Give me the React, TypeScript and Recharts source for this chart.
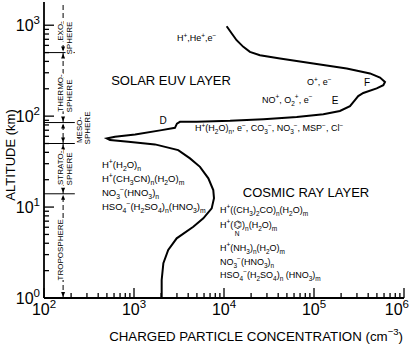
import { ComposedChart, Line, XAxis, YAxis, ReferenceLine, ReferenceDot } from 'recharts';

// charged particle concentration profile (cm^-3) vs altitude (km), traced top -> ground
const concentration = [10700, 12200, 13800, 16400, 19400, 25100, 41900, 98200, 231000, 419000, 541000, 615000, 589000, 497000, 353000, 310000, 285000, 251000, 194000, 127000, 64300, 27400, 11700, 4980, 3240, 3000, 2850, 2030, 1030, 615, 498, 541, 865, 1710, 3100, 4190, 5410, 6700, 7600, 7740, 7300, 5890, 4560, 2980, 2400, 2120, 2030, 2030];
const altitude = [975, 811, 684, 578, 509, 468, 431, 379, 334, 295, 266, 238, 219, 202, 180, 166, 150, 129, 114, 105, 98, 92.7, 88.8, 87, 86.5, 82.7, 74.4, 70.2, 63, 59.3, 56.9, 54.5, 52.2, 48.9, 42.3, 34.3, 27.7, 20.7, 15.4, 12.5, 9.68, 7.51, 6.08, 4.53, 3.37, 2.41, 1.58, 1];

const xDecades = [100, 1000, 10000, 100000, 1000000];
const yDecades = [1, 10, 100, 1000];
const minorSteps = [2, 3, 4, 5, 6, 7, 8, 9];

// atmospheric layers
const layerBounds = [14, 50, 85, 500];
const layerNames = [['TROPOSPHERE'], ['STRATO-', 'SPHERE'], ['MESO-', 'SPHERE'], ['THERMO-', 'SPHERE'], ['EXO-', 'SPHERE']];
const layerLabelAlt = [[3.64], [29, 28.2], [75.7, 79.6], [193, 179], [927, 776]];
const layerLabelConc = [[163], [163, 205], [264, 324], [163, 205], [163, 205]];

const ionsLower = ['H^+(H_2O)_n', 'H^+(CH_3CN)_n(H_2O)_m', 'NO_3^−(HNO_3)_n', 'HSO_4^−(H_2SO_4)_n(HNO_3)_m'];
const ionsLowerAlt = [29, 20.3, 14.3, 10];
const ionsCosmic = ['H^+((CH_3)_2CO)_n(H_2O)_m', 'PYR', 'H^+(NH_3)_n(H_2O)_m', 'NO_3^−(HNO_3)_n', 'HSO_4^−(H_2SO_4)_n (HNO_3)_m'];
const ionsCosmicAlt = [9.27, 6.34, 3.54, 2.49, 1.79];

const data = concentration.map((c, i) => ({ conc: c, alt: altitude[i] }));
const build = (decs: number[], top: number) => {
  const t: number[] = [];
  decs.forEach((d) => { t.push(d); minorSteps.forEach((m) => { if (d * m <= top) t.push(d * m); }); });
  return t;
};
const xTicks = build(xDecades, 1000000);
const yTicks = build(yDecades, 1800);

const FONT = "'Liberation Sans', Arial, sans-serif";

function parseChem(s: string) {
  const out: { t: string; k: number }[] = [];
  let buf = '';
  let i = 0;
  const flush = () => { if (buf) { out.push({ t: buf, k: 0 }); buf = ''; } };
  while (i < s.length) {
    const c = s[i];
    if (c === '^' || c === '_') {
      flush();
      let t = '';
      if (s[i + 1] === '{') { const j = s.indexOf('}', i); t = s.slice(i + 2, j); i = j + 1; }
      else { t = s[i + 1]; i += 2; }
      out.push({ t, k: c === '^' ? 1 : -1 });
    } else { buf += c; i++; }
  }
  flush();
  return out;
}

function Chem({ x, y, s, size, anchor = 'start', font = FONT, rotate = 0, halo = false }: any) {
  const parts = parseChem(s);
  let cur = 0;
  return (
    <text x={x} y={y} fontSize={size} fontFamily={font} textAnchor={anchor} fill="#000"
      transform={rotate ? `rotate(${rotate} ${x} ${y})` : undefined}
      stroke={halo ? '#fff' : undefined} strokeWidth={halo ? 3 : undefined} paintOrder="stroke">
      {parts.map((p, i) => {
        const target = p.k === 1 ? -size * 0.42 : p.k === -1 ? size * 0.28 : 0;
        const dy = target - cur;
        cur = target;
        return <tspan key={i} dy={dy} fontSize={p.k ? size * 0.72 : size}>{p.t}</tspan>;
      })}
    </text>
  );
}

const isMajor = (v: number) => Math.abs(Math.log10(v) - Math.round(Math.log10(v))) < 1e-6;
const MAJ = 10;
const MIN = 5;
const tickStroke = { stroke: '#000', strokeWidth: 1.3 };

function BottomTick({ x, y, payload }: any) {
  const v = payload.value;
  const big = isMajor(v);
  const last = v >= 1000000;
  return (
    <g>
      <line x1={x} y1={y} x2={x} y2={y - (big ? MAJ : MIN)} {...tickStroke} />
      {big && (
        <Chem x={last ? x + 5 : x} y={y + 17} s={`10^${Math.round(Math.log10(v))}`} size={16}
          anchor={last ? 'end' : 'middle'} />
      )}
    </g>
  );
}
function TopTick({ x, y, payload }: any) {
  const big = isMajor(payload.value);
  return <line x1={x} y1={y} x2={x} y2={y + (big ? MAJ : MIN)} {...tickStroke} />;
}
function LeftTick({ x, y, payload }: any) {
  const big = isMajor(payload.value);
  return (
    <g>
      <line x1={x} y1={y} x2={x + (big ? MAJ : MIN)} y2={y} {...tickStroke} />
      {big && <Chem x={x - 4} y={y + 6} s={`10^${Math.round(Math.log10(payload.value))}`} size={16} anchor="end" />}
    </g>
  );
}
function RightTick({ x, y, payload }: any) {
  const big = isMajor(payload.value);
  return <line x1={x} y1={y} x2={x - (big ? MAJ : MIN)} y2={y} {...tickStroke} />;
}

const label = (s: string, size: number, anchor = 'start', rotate = 0, halo = false) => (p: any) => (
  <Chem x={p.cx} y={p.cy + size * 0.35} s={s} size={size} anchor={anchor} rotate={rotate} halo={halo} />
);

const pyridine = (p: any) => (
  <g fontFamily={FONT} fill="#000">
    <text x={p.cx} y={p.cy + 3.2} fontSize={9}>
      <tspan>H</tspan><tspan dy={-3.8} fontSize={6.5}>+</tspan><tspan dy={3.8}>(</tspan>
      <tspan fontFamily="'DejaVu Sans'" fontSize={10}>⌬</tspan>
      <tspan>)</tspan><tspan dy={2.5} fontSize={6.5}>n</tspan><tspan dy={-2.5}>(H</tspan>
      <tspan dy={2.5} fontSize={6.5}>2</tspan><tspan dy={-2.5}>O)</tspan><tspan dy={2.5} fontSize={6.5}>m</tspan>
    </text>
    <text x={p.cx + 17} y={p.cy + 11} fontSize={6.5} textAnchor="middle">N</text>
  </g>
);

const arrowPair = (p: any) => (
  <g fill="#000">
    <polygon points={`${p.cx},${p.cy - 1} ${p.cx - 2},${p.cy - 6} ${p.cx + 2},${p.cy - 6}`} />
    <polygon points={`${p.cx},${p.cy + 1} ${p.cx - 2},${p.cy + 6} ${p.cx + 2},${p.cy + 6}`} />
  </g>
);
const arrowDown = (p: any) => (
  <polygon points={`${p.cx},${p.cy - 1} ${p.cx - 2},${p.cy - 6} ${p.cx + 2},${p.cy - 6}`} fill="#000" />
);

export default function App() {
  const axisLine = { stroke: '#000', strokeWidth: 1.8 };
  return (
    <div style={{ position: 'absolute', left: 0, top: 0, background: '#fff' }}>
      <ComposedChart width={411} height={346} data={data} margin={{ top: 2, right: 7, bottom: 0, left: 0 }}>
        <XAxis dataKey="conc" type="number" scale="log" domain={[100, 1000000]} allowDataOverflow
          ticks={xTicks} interval={0} height={48} tickSize={0} tickMargin={0} axisLine={axisLine} tickLine={false}
          tick={<BottomTick />}
          label={{
            content: (p: any) => (
              <Chem x={p.viewBox.x + p.viewBox.width - 1} y={p.viewBox.y + 43} s="CHARGED PARTICLE CONCENTRATION (cm^{−3})" size={13.3} anchor="end" />
            ),
          }} />
        <XAxis xAxisId="top" orientation="top" dataKey="conc" type="number" scale="log" domain={[100, 1000000]} allowDataOverflow
          ticks={xTicks} interval={0} height={0} tickSize={0} tickMargin={0} axisLine={axisLine} tickLine={false}
          tick={<TopTick />} />
        <YAxis dataKey="alt" type="number" scale="log" domain={[1, 1800]} allowDataOverflow
          ticks={yTicks} interval={0} width={44} tickSize={0} tickMargin={0} axisLine={axisLine} tickLine={false}
          tick={<LeftTick />}
          label={{
            content: () => <Chem x={15} y={155} s="ALTITUDE (km)" size={13} anchor="middle" rotate={-90} />,
          }} />
        <YAxis yAxisId="right" orientation="right" dataKey="alt" type="number" scale="log" domain={[1, 1800]} allowDataOverflow
          ticks={yTicks} interval={0} width={0} tickSize={0} tickMargin={0} axisLine={axisLine} tickLine={false}
          tick={<RightTick />} />

        <ReferenceLine segment={[{ x: 163, y: 1 }, { x: 163, y: 1800 }]} stroke="#000" strokeWidth={1} strokeDasharray="5 3" />
        {layerBounds.map((b) => (
          <ReferenceLine key={b} segment={[{ x: 100, y: b }, { x: 220, y: b }]} stroke="#000" strokeWidth={1} />
        ))}
        {layerBounds.map((b) => (
          <ReferenceDot key={`a${b}`} x={163} y={b} r={0} shape={arrowPair} />
        ))}
        <ReferenceDot x={163} y={1} r={0} shape={arrowDown} />
        {layerNames.map((names, i) => names.map((n, j) => (
          <ReferenceDot key={`${i}-${j}`} x={layerLabelConc[i][j]} y={layerLabelAlt[i][j]} r={0}
            shape={label(n, 8, 'middle', -90, true)} />
        )))}

        <Line dataKey="alt" stroke="#000" strokeWidth={2} dot={false} type="linear" isAnimationActive={false} />
        <Line dataKey="alt" xAxisId="top" yAxisId="right" stroke="none" dot={false} isAnimationActive={false} />

        <ReferenceDot x={2580} y={249} r={0} shape={label('SOLAR  EUV  LAYER', 13, 'middle')} />
        <ReferenceDot x={81500} y={14.3} r={0} shape={label('COSMIC RAY LAYER', 13, 'middle')} />
        <ReferenceDot x={3000} y={720} r={0} shape={label('H^+,He^+,e^−', 9)} />
        <ReferenceDot x={83600} y={236} r={0} shape={label('O^+, e^−', 9)} />
        <ReferenceDot x={388000} y={236} r={0} shape={label('F', 10, 'middle')} />
        <ReferenceDot x={26400} y={150} r={0} shape={label('NO^+, O_2^+, e^−', 9)} />
        <ReferenceDot x={171000} y={150} r={0} shape={label('E', 10, 'middle')} />
        <ReferenceDot x={2100} y={90.4} r={0} shape={label('D', 10, 'middle')} />
        <ReferenceDot x={4760} y={73.8} r={0} shape={label('H^+(H_2O)_n, e^−, CO_3^−, NO_3^−, MSP^−, Cl^−', 9)} />
        {ionsLower.map((s, i) => (
          <ReferenceDot key={s} x={441} y={ionsLowerAlt[i]} r={0} shape={label(s, 9.5)} />
        ))}
        {ionsCosmic.map((s, i) => (
          <ReferenceDot key={s} x={9030} y={ionsCosmicAlt[i]} r={0} shape={s === 'PYR' ? pyridine : label(s, 9)} />
        ))}
      </ComposedChart>
    </div>
  );
}
